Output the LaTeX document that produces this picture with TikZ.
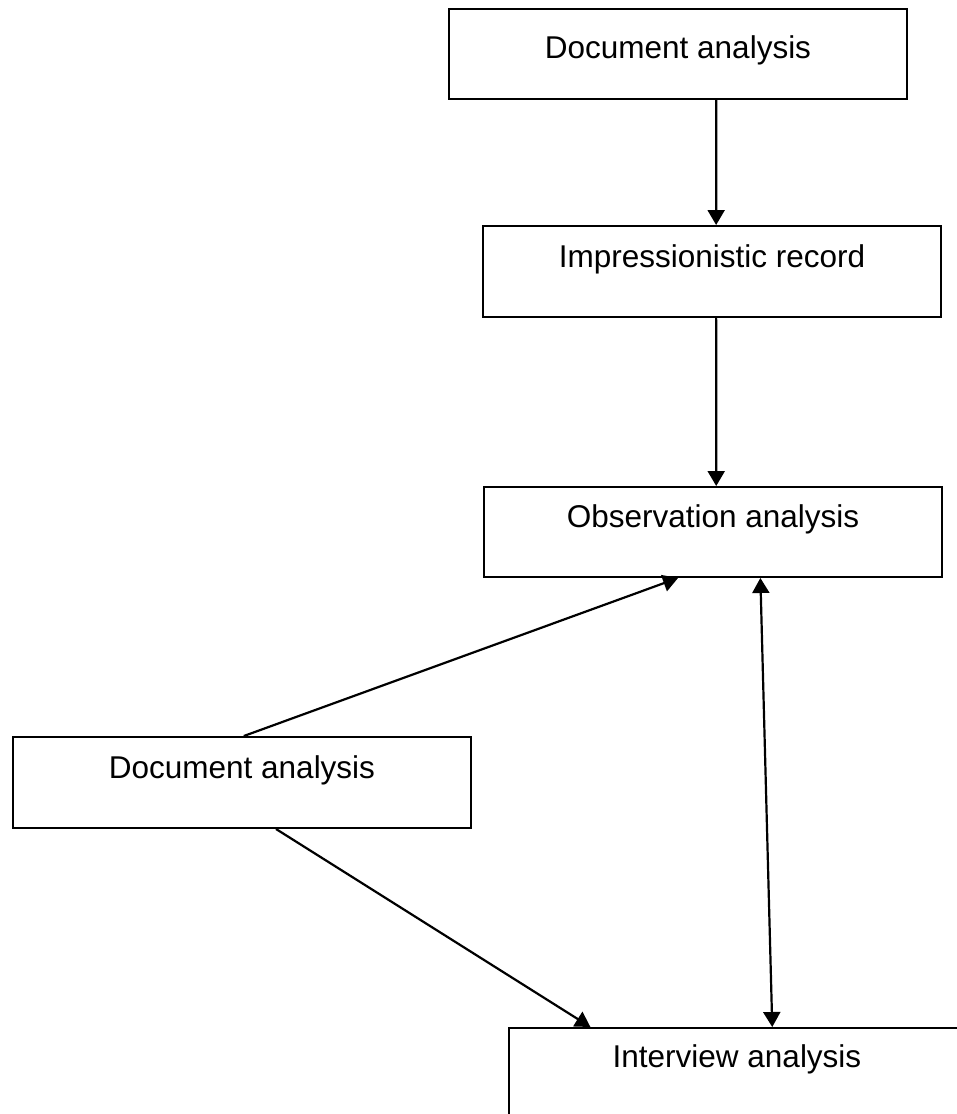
\documentclass[tikz,border=0pt]{standalone}
\usepackage{fontspec}
\setmainfont{Liberation Sans}
\usetikzlibrary{arrows.meta,calc}
\begin{document}
\begin{tikzpicture}[x=1pt,y=-1pt,
  box/.style={draw=black, line width=2pt, inner sep=0pt, anchor=north west,
    font=\fontsize{31.5}{38}\selectfont},
  conn/.style={line width=2.2pt, -{Triangle[width=17pt,length=15pt]}},
  dconn/.style={line width=2.2pt, {Triangle[width=17pt,length=15pt]}-{Triangle[width=17pt,length=15pt]}}]
\useasboundingbox (0,0) rectangle (957,1114);
\node[box, minimum width=458pt, text height=49pt, text depth=41pt] (b1) at (448,8) {Document analysis};
\node[box, minimum width=458pt, text height=41pt, text depth=50pt] (b2) at (482,225) {Impressionistic record};
\node[box, minimum width=458pt, text height=40pt, text depth=50pt] (b3) at (483,486) {Observation analysis};
\node[box, minimum width=458pt, text height=41pt, text depth=50pt] (b4) at (12,736) {Document analysis};
\node[box, minimum width=456pt, text height=39pt, text depth=52pt] (b5) at (508,1027) {Interview analysis};
\draw[conn] ($(b1.south west)!0.583!(b1.south east)$) -- ($(b2.north west)!0.509!(b2.north east)$);
\draw[conn] ($(b2.south west)!0.509!(b2.south east)$) -- ($(b3.north west)!0.507!(b3.north east)$);
\draw[conn] ($(b4.north west)!0.504!(b4.north east)$) -- ($(b3.south west)!0.424!(b3.south east)$);
\draw[conn] ($(b4.south west)!0.574!(b4.south east)$) -- ($(b5.north west)!0.18!(b5.north east)$);
\draw[dconn] ($(b3.south west)!0.603!(b3.south east)$) -- ($(b5.north west)!0.577!(b5.north east)$);
\end{tikzpicture}
\end{document}
